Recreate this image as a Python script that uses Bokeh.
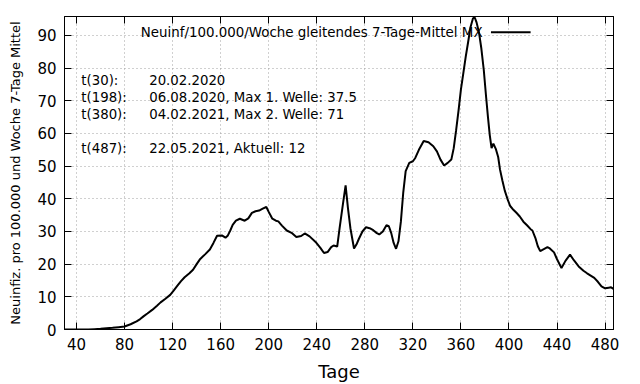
from bokeh.plotting import figure
from bokeh.models import (LinearAxis, FixedTicker, Range1d, Label, Arrow,
                          CustomJSTickFormatter)
from bokeh.embed import file_html
from bokeh.resources import INLINE

# ---- data ----
days = [30, 40, 50, 55, 60, 65, 70, 75, 80, 85, 90, 93, 96, 99, 103, 107, 110, 114, 118,
        121, 124, 127, 130, 134, 137, 140, 143, 147, 151, 154, 157, 161, 164, 166, 168,
        170, 172.7, 176, 180, 183, 186, 189, 192, 195, 198, 200, 203, 206, 208, 211, 215,
        219, 223, 227, 230, 234, 239, 243, 246, 249, 252, 254, 257, 259, 262, 264, 266,
        268, 271, 273, 275, 278, 281, 284, 287, 290, 292, 295, 298, 300, 302, 304, 306,
        308, 310, 312, 314, 317, 320, 322, 325, 329, 333, 337, 340, 343, 346, 349, 352,
        354, 356, 358, 360, 362, 364, 366, 368, 370, 371.5, 373, 375, 377, 379, 381, 382.5,
        384, 385.5, 387, 389, 391, 392.5, 394.5, 396.5, 398.7, 401, 403, 406, 409, 412,
        415, 418, 419.5, 422, 424, 426, 429, 432, 434, 437.5, 440, 443.7, 447, 450.8, 454,
        458, 462, 465, 468, 471, 474, 477, 480, 483, 485, 487]
values = [0, 0, 0, 0.1, 0.2, 0.35, 0.5, 0.7, 0.9, 1.6, 2.5, 3.2, 4.1, 4.9, 6.0, 7.3, 8.3,
          9.4, 10.6, 12.0, 13.4, 14.8, 16.0, 17.2, 18.3, 20.0, 21.6, 23.0, 24.5, 26.5, 28.7,
          28.8, 28.1, 28.8, 30.3, 32.0, 33.3, 33.9, 33.3, 34.0, 35.7, 36.2, 36.4, 37.0, 37.5,
          36.0, 33.9, 33.3, 33.1, 31.8, 30.3, 29.6, 28.3, 28.6, 29.4, 28.5, 26.8, 25.0, 23.4,
          23.7, 25.2, 25.7, 25.4, 31.0, 39.0, 44.1, 37.0, 31.0, 24.8, 26.0, 27.7, 30.0, 31.3,
          31.0, 30.4, 29.5, 29.1, 30.0, 31.9, 31.6, 29.5, 26.5, 24.7, 27.0, 33.0, 42.0, 48.5,
          51.0, 51.5, 52.5, 55.0, 57.7, 57.3, 56.1, 54.5, 52.0, 50.2, 51.0, 52.0, 55.5, 61.0,
          67.0, 73.5, 78.5, 83.5, 88.0, 92.6, 95.2, 95.5, 94.0, 91.0, 86.0, 79.5, 71.0, 65.0,
          59.5, 55.5, 56.9, 55.3, 52.8, 49.0, 45.6, 42.5, 40.0, 37.8, 36.9, 35.8, 34.6, 33.0,
          31.9, 30.7, 30.3, 28.0, 25.5, 24.0, 24.6, 25.2, 24.8, 23.6, 21.5, 18.8, 21.0, 22.9,
          21.2, 19.3, 18.0, 17.2, 16.5, 15.8, 14.6, 13.2, 12.6, 12.8, 12.9, 12.4]

x_ticks = [40, 80, 120, 160, 200, 240, 280, 320, 360, 400, 440, 480]
y_ticks = [0, 10, 20, 30, 40, 50, 60, 70, 80, 90]

legend_label = "Neuinf/100.000/Woche gleitendes 7-Tage-Mittel MX"
ann_keys = ["t(30):", "t(198):", "t(380):", "t(487):"]
ann_vals = ["20.02.2020", "06.08.2020, Max 1. Welle: 37.5",
            "04.02.2021, Max 2. Welle: 71", "22.05.2021, Aktuell: 12"]

FONT = "DejaVu Sans"

p = figure(width=640, height=384, output_backend="svg", toolbar_location=None,
           x_range=Range1d(30, 487), y_range=Range1d(0, 95.8),
           min_border_left=64, min_border_right=27, min_border_top=16,
           min_border_bottom=55, x_axis_label="Tage",
           y_axis_label="Neuinfiz. pro 100.000 und Woche 7-Tage Mittel")

p.outline_line_color = "black"
p.outline_line_width = 1
p.background_fill_color = "white"
p.border_fill_color = "white"

# grid
for g in (p.xgrid, p.ygrid):
    g.grid_line_color = "#a0a0a0"
    g.grid_line_dash = "1 3"
    g.grid_line_width = 1
p.xgrid.ticker = FixedTicker(ticks=x_ticks)
p.ygrid.ticker = FixedTicker(ticks=y_ticks)

# main axes
xa = p.xaxis[0]
xa.ticker = FixedTicker(ticks=x_ticks)
ya = p.yaxis[0]
ya.ticker = FixedTicker(ticks=y_ticks)
for ax in (xa, ya):
    ax.major_tick_in = 7
    ax.major_tick_out = 0
    ax.minor_tick_in = 0
    ax.minor_tick_out = 0
    ax.axis_line_color = "black"
    ax.major_tick_line_color = "black"
    ax.major_label_text_font = FONT
    ax.major_label_text_font_size = "15px"
    ax.major_label_text_color = "black"
    ax.axis_label_text_font = FONT
    ax.axis_label_text_font_style = "normal"
    ax.axis_label_text_color = "black"
xa.major_label_standoff = 8
xa.axis_label_text_font_size = "18px"
xa.axis_label_standoff = 8
ya.major_label_standoff = 8
ya.axis_label_text_font_size = "13px"
ya.axis_label_standoff = 11

# mirrored tick axes (no labels)
blank = CustomJSTickFormatter(code="return ''")
ra = LinearAxis(ticker=FixedTicker(ticks=y_ticks), formatter=blank)
ta = LinearAxis(ticker=FixedTicker(ticks=x_ticks), formatter=blank)
for ax in (ra, ta):
    ax.major_tick_in = 7
    ax.major_tick_out = 0
    ax.minor_tick_in = 0
    ax.minor_tick_out = 0
    ax.major_label_standoff = 0
    ax.axis_line_color = "black"
    ax.major_tick_line_color = "black"
p.add_layout(ra, "right")
p.add_layout(ta, "above")

# curve
p.line(days, values, line_color="black", line_width=2)

# legend (gnuplot style: text then sample line on the right)
p.add_layout(Label(x=378, y=91, text=legend_label, text_align="right",
                   text_baseline="middle", text_font=FONT, text_font_size="13.4px",
                   text_color="black"))
p.add_layout(Arrow(x_start=385, y_start=91, x_end=418, y_end=91, start=None, end=None,
                   line_color="black", line_width=2))

# annotation block
ann_y = [76.3, 71.1, 65.8, 55.4]
for k, v, yy in zip(ann_keys, ann_vals, ann_y):
    p.add_layout(Label(x=44, y=yy, text=k, text_align="left", text_baseline="middle",
                       text_font=FONT, text_font_size="13.3px", text_color="black"))
    p.add_layout(Label(x=100.5, y=yy, text=v, text_align="left", text_baseline="middle",
                       text_font=FONT, text_font_size="13.3px", text_color="black"))

open("out.html", "w").write(file_html(p, INLINE))
